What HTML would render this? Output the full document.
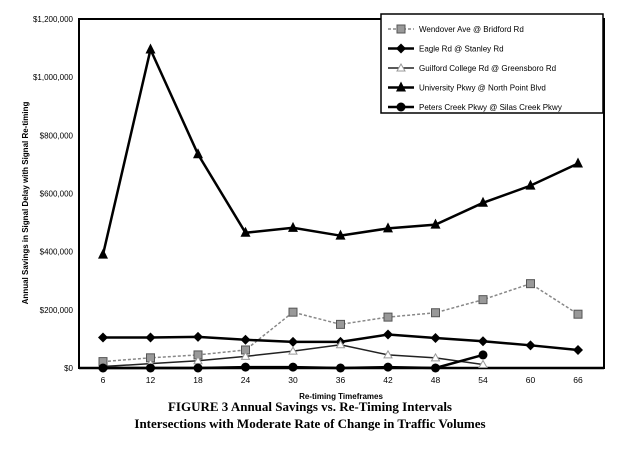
<!DOCTYPE html>
<html><head><meta charset="utf-8"><style>
body{margin:0;background:#fff;}
svg text{font-family:"Liberation Sans",sans-serif;}
</style></head><body>
<svg width="619" height="446" xmlns="http://www.w3.org/2000/svg">
<g id="axes"></g><g id="series"></g>
<rect x="381" y="14" width="222" height="99" fill="#fff" stroke="#000" stroke-width="1.5"/>
<g id="legend"></g>
<text x="310" y="411" text-anchor="middle" style="font-family:'Liberation Serif',serif;font-weight:bold;font-size:13px">FIGURE 3 Annual Savings vs. Re-Timing Intervals</text>
<text x="310" y="428" text-anchor="middle" style="font-family:'Liberation Serif',serif;font-weight:bold;font-size:13px">Intersections with Moderate Rate of Change in Traffic Volumes</text>
</svg>
<script>
const categories=[6,12,18,24,30,36,42,48,54,60,66];
const yTicks=[0,200000,400000,600000,800000,1000000,1200000];
const wendover=[22000,35000,45000,62000,192000,150000,175000,190000,235000,290000,185000];
const eagle=[105000,105000,107000,97000,90000,90000,115000,103000,92000,78000,62000];
const guilford=[5000,15000,25000,40000,58000,80000,45000,35000,12000,null,null];
const university=[390000,1095000,735000,465000,482000,455000,480000,493000,568000,627000,703000];
const peters=[0,0,0,3000,3000,0,3000,0,45000,null,null];
const names=["Wendover Ave @ Bridford Rd","Eagle Rd @ Stanley Rd","Guilford College Rd @ Greensboro Rd","University Pkwy @ North Point Blvd","Peters Creek Pkwy @ Silas Creek Pkwy"];
const NS="http://www.w3.org/2000/svg";
const X0=79,X1=604,Y0=368,Y1=19;
const xs=i=>103+i*47.5;
const ys=v=>Y0-(v/1200000)*(Y0-Y1);
function mk(t,a,p){const e=document.createElementNS(NS,t);for(const k in a)e.setAttribute(k,a[k]);p.appendChild(e);return e;}
const ax=document.getElementById('axes');
let e=mk('rect',{x:X0,y:Y1,width:X1-X0,height:Y0-Y1,fill:'none',stroke:'#000','stroke-width':2},ax);


e=mk('line',{x1:X0,y1:Y0,x2:X1,y2:Y0,stroke:'#000','stroke-width':2.5},ax);


yTicks.forEach(v=>{const t=mk('text',{x:X0-6,y:ys(v)+3,'text-anchor':'end','font-size':8},ax);t.textContent='$'+v.toLocaleString('en-US');

});
categories.forEach((c,i)=>{const t=mk('text',{x:xs(i),y:383,'text-anchor':'middle','font-size':8.5},ax);t.textContent=c;

});
e=mk('text',{x:341,y:399,'text-anchor':'middle','font-size':8,'font-weight':'bold'},ax);e.textContent='Re-timing Timeframes';


e=mk('text',{x:0,y:0,'text-anchor':'middle','font-size':8,'font-weight':'bold',transform:'translate(28,203) rotate(-90)'},ax);e.textContent='Annual Savings in Signal Delay with Signal Re-timing';


const sg=document.getElementById('series');
function marker(type,x,y,col,p){
 if(type==='sq')return mk('rect',{x:x-4,y:y-4,width:8,height:8,fill:'#999',stroke:'#555'},p);
 if(type==='di')return mk('polygon',{points:`${x},${y-5} ${x+5},${y} ${x},${y+5} ${x-5},${y}`,fill:'#000'},p);
 if(type==='tr')return mk('polygon',{points:`${x},${y-4} ${x+4},${y+3} ${x-4},${y+3}`,fill:'#fff',stroke:'#999'},p);
 if(type==='ttr')return mk('polygon',{points:`${x},${y-6} ${x+5},${y+4} ${x-5},${y+4}`,fill:'#000'},p);
 return mk('circle',{cx:x,cy:y,r:4.5,fill:'#000'},p);
}
const defs=[[wendover,'sq','#888',1.5,'3,2','series-wendover'],[eagle,'di','#000',2.5,'','series-eagle'],[guilford,'tr','#222',1.5,'','series-guilford'],[university,'ttr','#000',2.5,'','series-university'],[peters,'ci','#000',2.5,'','series-peters']];
defs.forEach(d=>{const g=mk('g',{},sg);
 
 
 const pts=[];d[0].forEach((v,i)=>{if(v!==null)pts.push([xs(i),ys(v)]);});
 mk('polyline',{points:pts.map(p=>p.join(',')).join(' '),fill:'none',stroke:d[2],'stroke-width':d[3],'stroke-dasharray':d[4]},g);
 pts.forEach(p=>{const m=marker(d[1],p[0],p[1],d[2],g);
 
 });
});
const lg=document.getElementById('legend');
defs.forEach((d,i)=>{const y=29+i*19.5;const g=mk('g',{},lg);
 
 
 mk('line',{x1:388,y1:y,x2:414,y2:y,stroke:d[2],'stroke-width':d[3],'stroke-dasharray':d[4]},g);
 marker(d[1],401,y,d[2],g);
 const t=mk('text',{x:419,y:y+3,'font-size':8},g);t.textContent=names[i];});
</script>
</body></html>
